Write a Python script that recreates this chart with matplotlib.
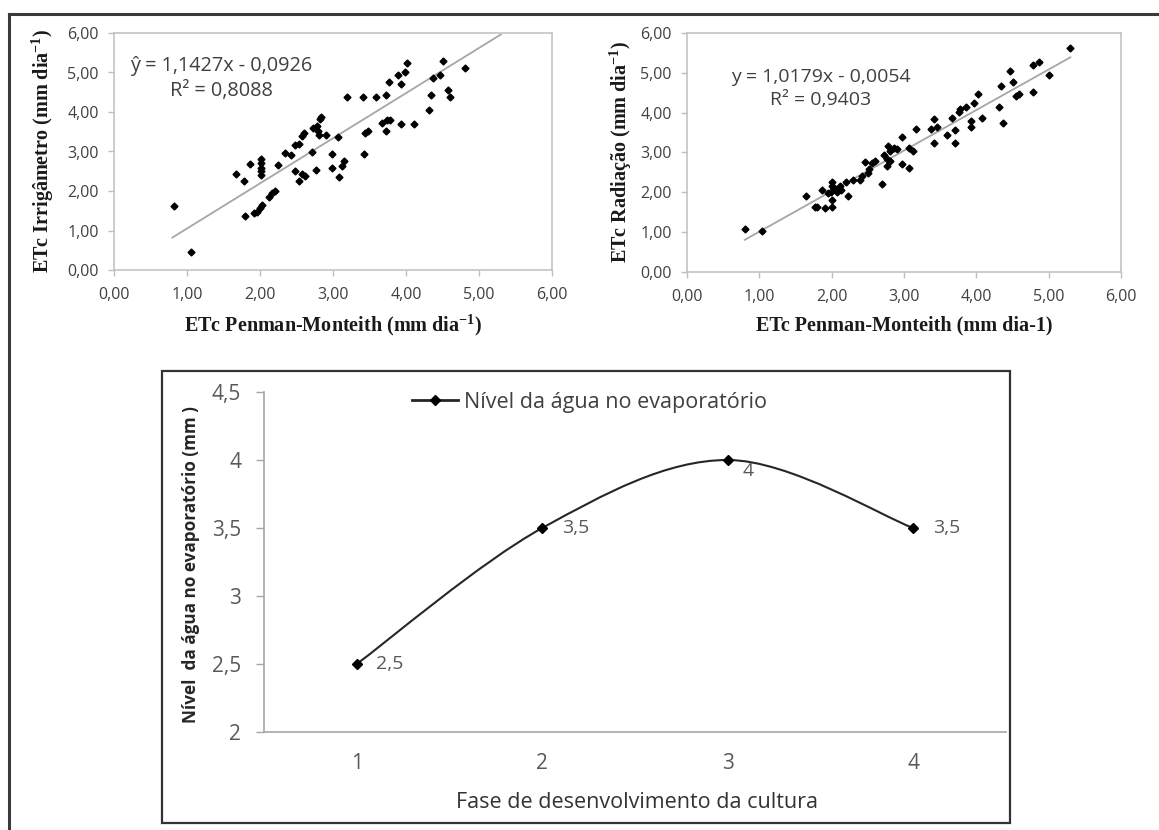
import numpy as np
import matplotlib
matplotlib.use('Agg')
import matplotlib.pyplot as plt
from matplotlib.path import Path
from matplotlib.patches import PathPatch, Rectangle
from matplotlib.lines import Line2D
from matplotlib.ticker import FuncFormatter

plt.rcParams['font.family'] = ['Open Sans', 'DejaVu Sans']
plt.rcParams['mathtext.fontset'] = 'custom'
plt.rcParams['mathtext.rm'] = 'Liberation Serif:bold'
plt.rcParams['mathtext.it'] = 'Liberation Serif:bold'
plt.rcParams['mathtext.bf'] = 'Liberation Serif:bold'

# ETc Penman-Monteith x ETc Irrigametro (mm/dia)
pm_irr = [0.82, 1.05, 1.67, 1.78, 1.86, 1.79, 1.92, 1.96, 2.00, 2.03,
          2.02, 2.02, 2.02, 2.02, 2.02, 2.12, 2.16, 2.21, 2.24, 2.34,
          2.43, 2.48, 2.53, 2.48, 2.53, 2.58, 2.61, 2.58, 2.60, 2.71,
          2.73, 2.77, 2.78, 2.80, 2.81, 2.82, 2.83, 2.91, 2.98, 2.98,
          3.07, 3.08, 3.13, 3.15, 3.19, 3.41, 3.42, 3.44, 3.48, 3.59,
          3.67, 3.72, 3.73, 3.74, 3.78, 3.77, 3.89, 3.93, 3.93, 3.98,
          4.02, 4.11, 4.32, 4.34, 4.37, 4.47, 4.51, 4.57, 4.60, 4.81]
etc_irr = [1.62, 0.45, 2.42, 2.25, 2.69, 1.37, 1.44, 1.48, 1.57, 1.65,
           2.81, 2.71, 2.58, 2.50, 2.40, 1.86, 1.95, 1.99, 2.67, 2.97,
           2.90, 3.16, 3.18, 2.50, 2.25, 2.42, 2.37, 3.39, 3.46, 2.98,
           3.60, 2.53, 3.64, 3.52, 3.43, 3.83, 3.88, 3.41, 2.94, 2.58,
           3.37, 2.36, 2.64, 2.77, 4.38, 4.38, 2.94, 3.46, 3.53, 4.38,
           3.71, 3.52, 4.43, 3.81, 3.80, 4.77, 4.93, 4.70, 3.69, 5.02,
           5.24, 3.70, 4.04, 4.43, 4.86, 4.93, 5.28, 4.56, 4.39, 5.12]

# ETc Penman-Monteith x ETc Radiacao (mm/dia)
pm_rad = [0.80, 1.04, 1.65, 1.77, 1.80, 1.86, 1.91, 1.95, 1.99, 2.00,
          2.00, 2.00, 2.01, 2.03, 2.07, 2.11, 2.13, 2.20, 2.22, 2.30,
          2.39, 2.42, 2.46, 2.50, 2.52, 2.56, 2.60, 2.69, 2.72, 2.76,
          2.77, 2.78, 2.81, 2.81, 2.86, 2.90, 2.97, 2.97, 3.07, 3.07,
          3.12, 3.17, 3.38, 3.41, 3.42, 3.45, 3.59, 3.66, 3.70, 3.71,
          3.76, 3.78, 3.86, 3.92, 3.92, 3.97, 4.02, 4.08, 4.31, 4.34,
          4.37, 4.46, 4.51, 4.55, 4.59, 4.79, 4.79, 4.86, 5.00, 5.29]
etc_rad = [1.09, 1.03, 1.90, 1.64, 1.64, 2.05, 1.60, 1.98, 2.02, 2.25,
           2.15, 1.81, 1.64, 2.10, 2.02, 2.15, 2.06, 2.27, 1.90, 2.32,
           2.32, 2.40, 2.75, 2.48, 2.59, 2.73, 2.78, 2.22, 2.93, 2.84,
           2.65, 3.16, 3.03, 2.78, 3.12, 3.09, 3.39, 2.71, 3.12, 2.61,
           3.03, 3.60, 3.58, 3.83, 3.23, 3.64, 3.43, 3.87, 3.56, 3.24,
           4.02, 4.09, 4.13, 3.79, 3.64, 4.24, 4.46, 3.87, 4.14, 4.66,
           3.75, 5.05, 4.77, 4.41, 4.46, 5.19, 4.51, 5.26, 4.94, 5.62]

# trendlines (slope, intercept) and R2 as printed on the charts
irr_coef = (1.1427, -0.0926)
irr_r2 = 0.8088
rad_coef = (1.0179, -0.0054)
rad_r2 = 0.9403
trend_span = (0.80, 5.30)

# water level in the evaporator by crop phase
fases = [1, 2, 3, 4]
nivel = [2.5, 3.5, 4.0, 3.5]
nivel_labels = ['2,5', '3,5', '4', '3,5']

W, H = 1159, 830


def box(l, t, r, b):
    return [l / W, 1 - b / H, (r - l) / W, (b - t) / H]


def br(v, nd=4):
    return f'{v:.{nd}f}'.replace('.', ',')


fig = plt.figure(figsize=(W / 100, H / 100), dpi=100)

# outer frame (only left/top visible in the crop)
fig.add_artist(Line2D([9 / W, 9 / W], [0, 1 - 14 / H], transform=fig.transFigure,
                      color='#3a3a3a', lw=2.2))
fig.add_artist(Line2D([9 / W, 1], [1 - 14 / H, 1 - 14 / H], transform=fig.transFigure,
                      color='#3a3a3a', lw=2.2))


def scatter_panel(ax, x, y, coef, r2, hat, eq_xy, eq_size):
    ax.plot(x, y, 'D', color='black', ms=3.5, ls='none', zorder=3)
    tx = np.array(trend_span)
    ax.plot(tx, coef[0] * tx + coef[1], color='#a6a6a6', lw=1.3, zorder=2)
    sign = '-' if coef[1] < 0 else '+'
    txt = f'{hat} = {br(coef[0])}x {sign} {br(abs(coef[1]))}\nR² = {br(r2)}'
    ax.text(eq_xy[0], eq_xy[1], txt, ha='center', va='center', fontsize=eq_size,
            color='#404040', linespacing=1.35, multialignment='center')
    ax.set_xlim(0, 6)
    ax.set_ylim(0, 6)
    ax.set_xticks(range(7))
    ax.set_yticks(range(7))
    fmt = FuncFormatter(lambda v, p: br(v, 2))
    ax.xaxis.set_major_formatter(fmt)
    ax.yaxis.set_major_formatter(fmt)
    for s in ax.spines.values():
        s.set_color('#bfbfbf')
        s.set_linewidth(1.1)
    ax.tick_params(axis='both', direction='out', length=4, width=1, color='#bfbfbf',
                   labelsize=11.5, labelcolor='#404040')
    ax.tick_params(axis='y', pad=7)
    ax.tick_params(axis='x', pad=8)


ax1 = fig.add_axes(box(114, 33, 552, 270))
scatter_panel(ax1, pm_irr, etc_irr, irr_coef, irr_r2, 'ŷ', (1.47, 4.85), 14.3)
ax2 = fig.add_axes(box(687, 33, 1121, 272))
scatter_panel(ax2, pm_rad, etc_rad, rad_coef, rad_r2, 'y', (1.85, 4.61), 14)

serif = dict(family='Liberation Serif', weight='bold', fontsize=14.5, color='#1a1a1a')
fig.text(43 / W, 1 - 151 / H, r'ETc Irrigâmetro (mm dia$^{-1}$)', rotation=90,
         ha='center', va='center', **serif)
fig.text(333 / W, 1 - 325 / H, r'ETc Penman-Monteith (mm dia$^{-1}$)',
         ha='center', va='center', **serif)
fig.text(621 / W, 1 - 152 / H, r'ETc Radiação (mm dia$^{-1}$)', rotation=90,
         ha='center', va='center', **serif)
fig.text(904 / W, 1 - 325 / H, 'ETc Penman-Monteith (mm dia-1)',
         ha='center', va='center', **serif)

# bottom chart frame
fig.add_artist(Rectangle((162 / W, 1 - 823 / H), (1010 - 162) / W, (823 - 371) / H,
                         transform=fig.transFigure, fill=False, ec='#333333', lw=1.6))

ax3 = fig.add_axes(box(264, 392, 1006, 732))
pts = np.column_stack([fases, nivel]).astype(float)
ext = np.vstack([pts[0], pts, pts[-1]])
verts = [pts[0]]
codes = [Path.MOVETO]
for i in range(len(pts) - 1):
    p0, p1, p2, p3 = ext[i], ext[i + 1], ext[i + 2], ext[i + 3]
    verts += [p1 + (p2 - p0) / 6, p2 - (p3 - p1) / 6, p2]
    codes += [Path.CURVE4] * 3
ax3.add_patch(PathPatch(Path(verts, codes), fill=False, edgecolor='#262626', lw=1.5))
ax3.plot(fases, nivel, 'D', color='black', ms=5, ls='none', zorder=3)

for x, y, lbl in zip(fases, nivel, nivel_labels):
    off = (11, -8) if y == max(nivel) else (14, 0)
    ax3.annotate(lbl, (x, y), xytext=off, textcoords='offset points', ha='left',
                 va='center', fontsize=14, color='#595959')

h = Line2D([], [], color='#262626', lw=2, marker='D', ms=5, mfc='black', mec='black')
ax3.legend(handles=[h], labels=['Nível da água no evaporatório'], loc='center left',
           bbox_to_anchor=(412 / W, 1 - 402 / H), bbox_transform=fig.transFigure,
           frameon=False, borderpad=0, borderaxespad=0, handlelength=2.15,
           handletextpad=0.28, prop={'size': 15.5}, labelcolor='#404040')

ax3.set_xlim(0.5, 4.5)
ax3.set_ylim(2, 4.5)
ax3.set_xticks(fases)
ax3.set_yticks([2, 2.5, 3, 3.5, 4, 4.5])
ax3.yaxis.set_major_formatter(FuncFormatter(lambda v, p: f'{v:g}'.replace('.', ',')))
for s in ['top', 'right']:
    ax3.spines[s].set_visible(False)
for s in ['left', 'bottom']:
    ax3.spines[s].set_color('#a6a6a6')
    ax3.spines[s].set_linewidth(1.2)
ax3.tick_params(axis='y', direction='out', length=5.5, width=1, color='#a6a6a6',
                labelsize=15, labelcolor='#595959', pad=11)
ax3.tick_params(axis='x', length=0, labelsize=15, labelcolor='#595959', pad=15)

fig.text(191 / W, 1 - 565 / H, 'Nível  da água no evaporatório (mm )', rotation=90,
         ha='center', va='center', fontsize=12.3, weight='bold', color='#262626')
fig.text(637 / W, 1 - 802 / H, 'Fase de desenvolvimento da cultura',
         ha='center', va='center', fontsize=15.5, color='#333333')

fig.savefig('out.png', dpi=100)
